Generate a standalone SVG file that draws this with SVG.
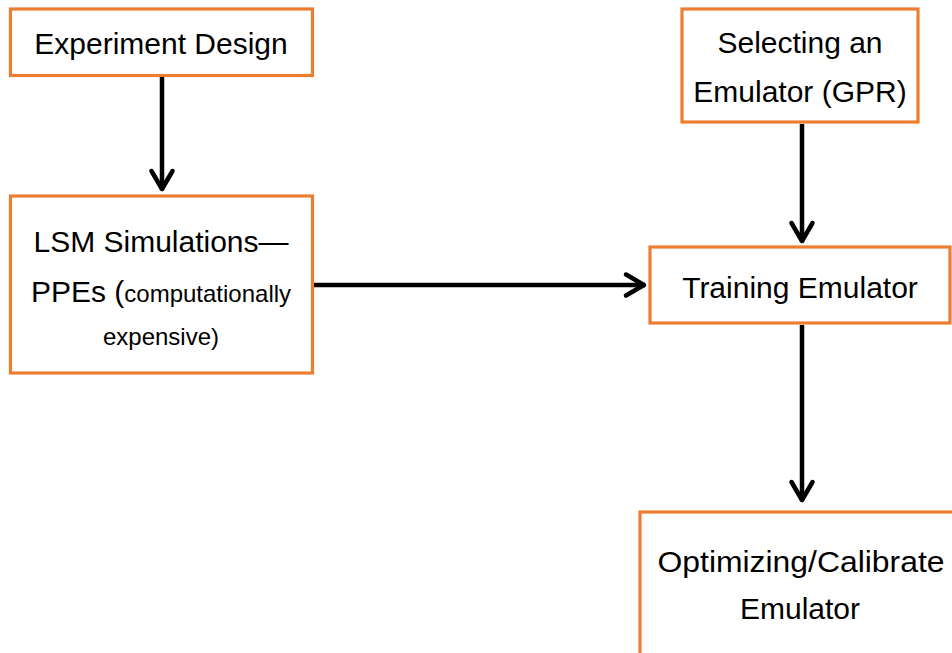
<svg xmlns="http://www.w3.org/2000/svg" width="952" height="653" viewBox="0 0 952 653">
<style>
.box{fill:#fff;stroke:#ED7D31;stroke-width:3.2}
.t{font-family:"Liberation Sans",Arial,sans-serif;font-size:30px;fill:#000;text-anchor:middle}
.s{font-size:24px}
.c{stroke:#000;stroke-width:4.5;fill:none}
</style>
<defs>
<marker id="ah" markerUnits="userSpaceOnUse" markerWidth="30" markerHeight="30" viewBox="-24 -15 30 30" refX="0" refY="0" orient="auto" overflow="visible">
<path d="M-19,-10.5 L-1,0 L-19,10.5" fill="none" stroke="#000" stroke-width="4.5" stroke-linecap="round" stroke-linejoin="round"/>
</marker>
</defs>
<rect width="952" height="653" fill="#fff"/>
<g id="connectors">
<line class="c" x1="162" y1="77" x2="162" y2="190" marker-end="url(#ah)"/>
<line class="c" x1="314" y1="285" x2="645" y2="285" marker-end="url(#ah)"/>
<line class="c" x1="802" y1="124" x2="802" y2="242" marker-end="url(#ah)"/>
<line class="c" x1="802" y1="325" x2="802" y2="501" marker-end="url(#ah)"/>
</g>
<g id="experiment-design">
<rect class="box" x="10.5" y="9" width="302" height="66.5"/>
<text class="t" x="161" y="54">Experiment Design</text>
</g>
<g id="lsm-simulations">
<rect class="box" x="10.5" y="196" width="302" height="177"/>
<text class="t" x="161" y="252">LSM Simulations—</text>
<text class="t" x="161" y="302">PPEs (<tspan class="s">computationally</tspan></text>
<text class="t s" x="161" y="345">expensive)</text>
</g>
<g id="selecting-emulator">
<rect class="box" x="682" y="9" width="236" height="113"/>
<text class="t" x="800" y="53">Selecting an</text>
<text class="t" x="800" y="102">Emulator (GPR)</text>
</g>
<g id="training-emulator">
<rect class="box" x="650" y="247" width="300" height="76"/>
<text class="t" x="800" y="298">Training Emulator</text>
</g>
<g id="optimizing-emulator">
<rect class="box" x="640" y="512" width="330" height="170"/>
<text class="t" x="801" y="572" textLength="287" lengthAdjust="spacingAndGlyphs">Optimizing/Calibrate</text>
<text class="t" x="800" y="619">Emulator</text>
</g>
</svg>
